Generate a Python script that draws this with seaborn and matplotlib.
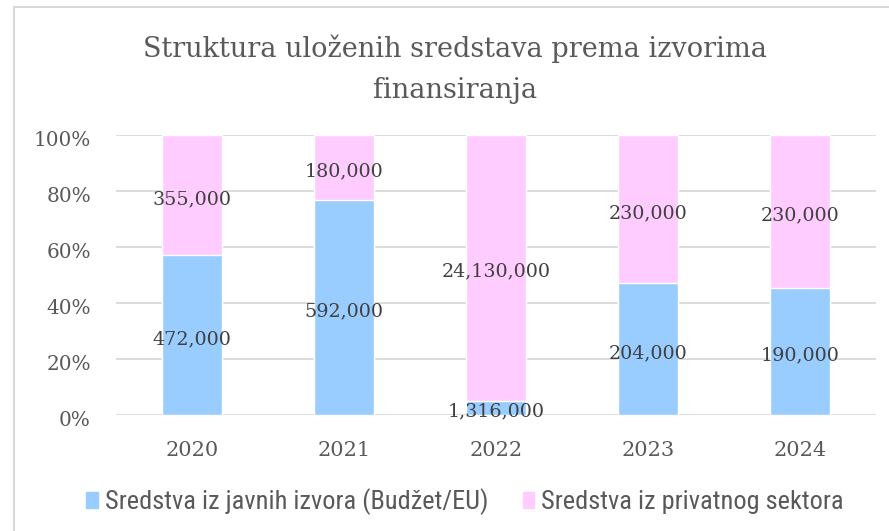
import matplotlib.pyplot as plt
import matplotlib.patches as mpatches
import matplotlib.transforms as mtransforms
import seaborn as sns
import pandas as pd

years = ['2020', '2021', '2022', '2023', '2024']
public_funds = [472000, 592000, 1316000, 204000, 190000]
private_funds = [355000, 180000, 24130000, 230000, 230000]
series_names = ['Sredstva iz javnih izvora (Budžet/EU)', 'Sredstva iz privatnog sektora']

blue = '#99CCFF'
pink = '#FFCCFF'
txt = '#595959'

sns.set_style('white')
plt.rcParams['font.family'] = ['DejaVu Serif']

df = pd.DataFrame({'year': years, 'public': public_funds, 'private': private_funds})
df['total'] = df['public'] + df['private']
df['public_pct'] = df['public'] / df['total'] * 100
df['all_pct'] = 100.0

fig = plt.figure(figsize=(8.89, 5.31), dpi=100)
ax = fig.add_axes([116 / 889, 1 - 415 / 531, 760 / 889, 280 / 531])

# pink = full 100% bar, blue drawn over it
sns.barplot(data=df, x='year', y='all_pct', color=pink, width=0.4, ax=ax,
            saturation=1, zorder=2)
sns.barplot(data=df, x='year', y='public_pct', color=blue, width=0.4, ax=ax,
            saturation=1, zorder=3)

shift = mtransforms.ScaledTranslation(0, -4 / 100, fig.dpi_scale_trans)
for i, row in df.iterrows():
    ax.text(i, row['public_pct'] / 2, f"{row['public']:,}", ha='center', va='center',
            fontsize=13.8, color='#404040', zorder=5, transform=ax.transData + shift)
    ax.text(i, row['public_pct'] + (100 - row['public_pct']) / 2, f"{row['private']:,}",
            ha='center', va='center', fontsize=13.8, color='#404040', zorder=5,
            transform=ax.transData + shift)

ax.set_ylim(0, 100)
ax.set_yticks(range(0, 101, 20))
ax.set_yticklabels([f'{v}%' for v in range(0, 101, 20)])
ax.yaxis.grid(True, color='#D9D9D9', linewidth=1.3, zorder=0)
ax.set_axisbelow(True)
for s in ax.spines.values():
    s.set_visible(False)
ax.set_xlabel('')
ax.set_ylabel('')
ax.tick_params(axis='y', length=0, pad=18, labelsize=14.4, labelcolor=txt)
ax.tick_params(axis='x', length=0, pad=19, labelsize=15, labelcolor=txt)
for lab in ax.get_yticklabels():
    lab.set_transform(lab.get_transform() + shift)

fig.text(455 / 889, 1 - 69 / 531, 'Struktura uloženih sredstava prema izvorima\nfinansiranja',
         ha='center', va='center', fontsize=19.5, color=txt, linespacing=1.65)

handles = [mpatches.Patch(color=blue, label=series_names[0]),
           mpatches.Patch(color=pink, label=series_names[1])]
fig.legend(handles=handles, loc='center', bbox_to_anchor=(465 / 889, 1 - 502 / 531), ncol=2,
           frameon=False, handlelength=0.45, handleheight=0.55, handletextpad=0.25,
           columnspacing=1.3,
           prop={'family': ['Roboto Condensed', 'Roboto', 'DejaVu Sans'], 'size': 19},
           labelcolor=txt)

fig.patches.append(mpatches.Rectangle((14 / 889, -0.01), 1.0, 1 - 7 / 531 + 0.01,
                                      transform=fig.transFigure, fill=False,
                                      edgecolor='#D9D9D9', linewidth=1.5))

fig.savefig('out.png', dpi=100)
